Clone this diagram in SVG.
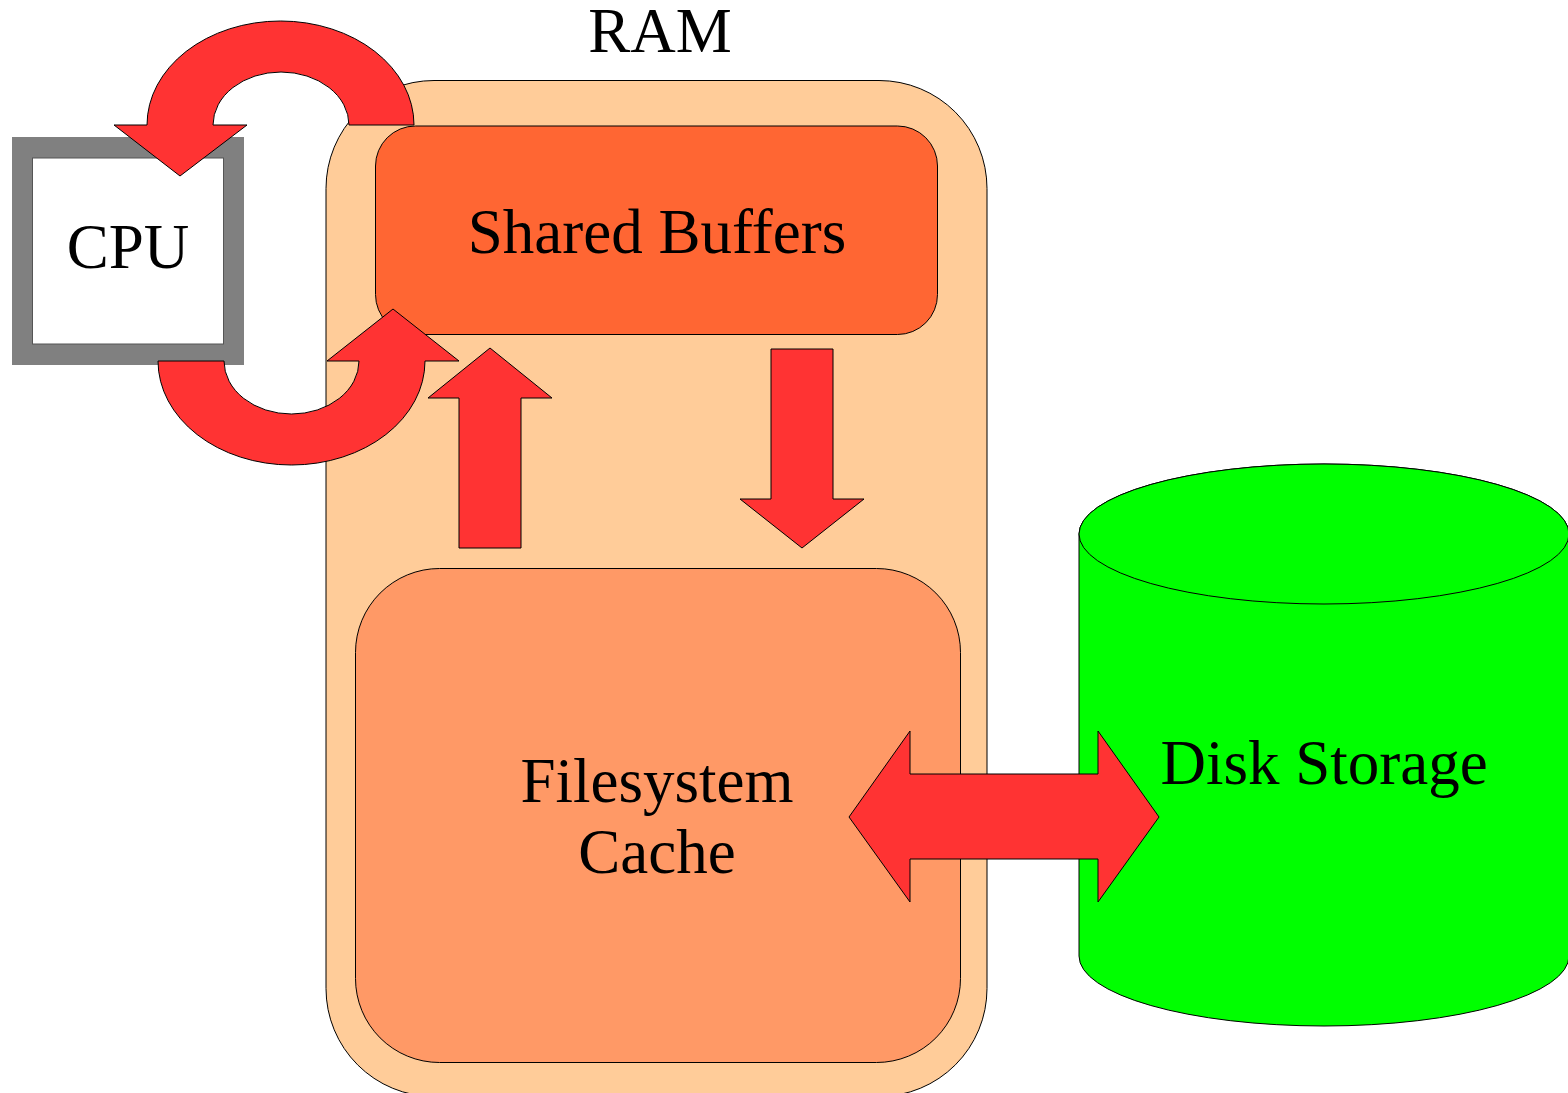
<svg xmlns="http://www.w3.org/2000/svg" width="1568" height="1093" viewBox="0 0 1568 1093">
  <style>
    .lbl { font-family: "Liberation Serif", "Times New Roman", serif; font-size: 63px; fill: #000; text-anchor: middle; }
    .edge { stroke: #000; stroke-width: 1; }
    .arrow { fill: #FF3333; stroke: #000; stroke-width: 1; stroke-linejoin: miter; }
  </style>
  <rect width="1568" height="1093" fill="#fff"/>
  <g id="ram">
    <rect class="edge" x="326" y="80.5" width="661" height="1016" rx="108" ry="108" fill="#FFCC99"/>
    <text class="lbl" x="660" y="52">RAM</text>
  </g>
  <g id="shared-buffers">
    <rect class="edge" x="375.5" y="126" width="562" height="208.5" rx="40" ry="40" fill="#FF6633"/>
    <text class="lbl" x="657" y="253">Shared Buffers</text>
  </g>
  <g id="filesystem-cache">
    <rect class="edge" x="355.5" y="568.5" width="605" height="494" rx="84" ry="84" fill="#FF9966"/>
    <text class="lbl" x="657" y="802">Filesystem</text>
    <text class="lbl" x="657" y="873">Cache</text>
  </g>
  <g id="cpu">
    <rect x="12" y="137" width="232" height="228" fill="#808080"/>
    <rect x="32.5" y="158" width="191" height="186" fill="#fff" stroke="#555" stroke-width="1"/>
    <text class="lbl" x="128" y="268">CPU</text>
  </g>
  <g id="disk-storage">
    <path class="edge" d="M1079,534 L1079,956 A245,70 0 0 0 1569,956 L1569,534 A245,70 0 0 0 1079,534 Z" fill="#00FF00"/>
    <ellipse class="edge" cx="1324" cy="534" rx="245" ry="70" fill="#00FF00"/>
    <text class="lbl" x="1324" y="784">Disk Storage</text>
  </g>
  <g id="connectors">
    <path class="arrow" d="M414,125 A133.5,104 0 0 0 147,125 L114,125 L180,176 L247,125 L213,125 A68,53 0 0 1 349,125 Z"/>
    <path class="arrow" d="M158,361 A133.5,104 0 0 0 425,361 L459,361 L393,309 L327,361 L359,361 A67.5,53 0 0 1 224,361 Z"/>
    <polygon class="arrow" points="459,548 459,398 428,398 490,348 552,398 521,398 521,548"/>
    <polygon class="arrow" points="771,349 833,349 833,499 864,499 802,548 740,499 771,499"/>
    <polygon class="arrow" points="849,817 910,731 910,774 1098,774 1098,731 1159,817 1098,902 1098,859 910,859 910,902"/>
  </g>
</svg>
